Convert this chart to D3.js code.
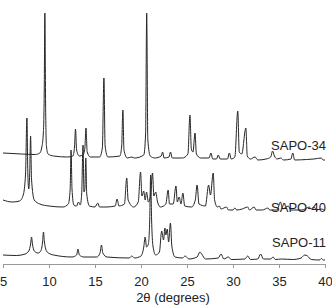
<!DOCTYPE html>
<html>
<head>
<meta charset="utf-8">
<script src="https://cdn.jsdelivr.net/npm/d3@7"></script>
<style>
  body { margin: 0; background: #fff; }
  svg text { font-family: "Liberation Sans", Arial, sans-serif; fill: #222; }
</style>
</head>
<body>
<div id="chart"></div>
<script>
'use strict';

// sample names and vertical offsets of each pattern
let sampleNames = ["SAPO-11", "SAPO-40", "SAPO-34"];
let sampleOffsets = [0, 50, 100];

// [2theta, intensity], relative to each offset
let sapo11 = [[5.0,9],[6.5,8.5],[7.4,10],[7.8,13],[8.0,20],[8.1,27],[8.2,20],[8.4,13],[8.8,11],[9.1,13],[9.3,22],[9.4,32],[9.5,22],[9.8,12],[10.5,9],[12.5,7],[13.0,9],[13.15,15],[13.3,9],[13.8,7],[15.2,7],[15.55,11],[15.7,19],[15.85,11],[16.3,7],[18.7,6],[19.0,8],[19.3,6],[20.0,8],[20.3,17],[20.45,27],[20.6,17],[20.8,20],[20.95,45],[21.05,89],[21.15,45],[21.3,18],[21.6,9],[22.0,12],[22.25,33],[22.45,24],[22.6,36],[22.7,29],[22.85,35],[23.0,22],[23.2,41],[23.35,18],[23.7,7],[24.5,6],[24.8,8],[25.2,5],[26.1,7],[26.4,12],[26.6,10],[27.0,5],[28.4,6],[28.7,10],[29.0,5],[29.5,7],[29.8,4.5],[31.3,5],[31.6,8],[31.9,4.5],[32.7,5],[33.0,10],[33.3,5],[34.1,5],[34.35,7],[34.6,4.5],[35.3,5],[36.5,4.5],[37.4,6],[37.8,9],[38.1,8],[38.5,4.5],[39.4,4],[39.6,5.5],[39.8,4],[40,4]];

let sapo40 = [[5.0,14],[6.0,12],[6.8,13],[7.2,19],[7.45,40],[7.6,96],[7.7,40],[7.8,25],[7.9,40],[8.0,78],[8.1,35],[8.4,14],[9.0,10],[10.0,8],[11.5,7],[12.1,10],[12.3,25],[12.4,64],[12.5,25],[12.7,9],[13.0,8],[13.2,12],[13.4,9],[13.55,20],[13.7,69],[13.8,22],[13.9,25],[14.0,56],[14.1,20],[14.4,8],[15.0,7],[15.3,11],[15.5,7],[16.2,7],[17.2,8],[17.4,15],[17.6,8],[18.2,10],[18.45,36],[18.6,14],[19.2,7],[19.7,12],[19.95,42],[20.1,18],[20.3,23],[20.45,14],[20.6,22],[20.8,12],[21.05,20],[21.25,41],[21.4,18],[21.6,22],[21.8,12],[22.1,7],[22.7,10],[22.95,24],[23.1,10],[23.5,10],[23.8,28],[23.95,12],[24.15,17],[24.35,10],[24.55,21],[24.75,8],[25.5,7],[25.9,14],[26.1,29],[26.3,10],[27.0,8],[27.35,29],[27.55,19],[27.85,41],[28.0,14],[28.3,7],[28.5,8],[28.7,5],[29.3,7],[29.5,4],[30.0,4],[30.2,6],[30.4,4],[31.0,5],[31.6,7],[31.8,4],[32.3,7],[32.5,4],[33.2,4],[33.8,6],[34.0,4],[34.8,4],[35.15,12],[35.4,5],[36.0,8],[36.3,4],[37.5,4],[38.3,7],[38.5,5],[38.8,7],[39.1,4],[39.6,5],[40,3]];

let sapo34 = [[5.0,11],[7.0,10],[8.5,9.5],[9.0,11],[9.2,16],[9.38,30],[9.48,70],[9.55,151],[9.63,60],[9.72,18],[9.9,10],[10.5,8],[12.0,7],[12.6,8],[12.78,18],[12.88,35],[13.0,14],[13.3,8],[13.7,9],[13.9,16],[14.02,36],[14.15,12],[14.5,7],[15.5,7],[15.8,16],[15.97,86],[16.1,18],[16.4,7],[17.7,8],[17.9,18],[18.03,54],[18.15,14],[18.5,6],[19.0,7],[19.3,6],[20.3,9],[20.5,30],[20.62,151],[20.74,25],[21.0,8],[21.5,6],[22.2,8],[22.35,12],[22.5,6],[23.05,7],[23.2,12],[23.4,6],[24.5,6],[25.1,10],[25.32,49],[25.47,15],[25.65,12],[25.87,31],[26.02,10],[26.5,6],[27.4,6],[27.6,11],[27.8,5],[28.2,5],[28.4,9],[28.6,5],[29.4,5],[29.6,11],[29.8,5],[30.2,7],[30.52,53],[30.68,12],[30.95,10],[31.4,36],[31.55,8],[31.9,5],[32.4,7],[32.7,4],[33.6,5],[34.1,7],[34.3,13],[34.5,8],[34.8,5],[35.2,6],[35.5,4],[36.3,5],[36.5,11],[36.7,4],[38.0,4.5],[38.8,5],[39.6,6],[39.8,4],[40,4]];

let xTicks = [5, 10, 15, 20, 25, 30, 35, 40];
let xTitle = "2\u03b8 (degrees)";

const width = 332;
const height = 306;
const margin = {top: 14, right: 7, bottom: 42, left: 3};

let svg = d3.select("#chart")
            .append("svg")
            .attr("width", width)
            .attr("height", height);

let x = d3.scaleLinear()
          .domain([5, 40])
          .range([margin.left, width - margin.right]);
let y = d3.scaleLinear()
          .domain([0, 250])
          .range([height - margin.bottom, margin.top]);

// x axis
let axis = svg.append("g")
              .attr("transform", "translate(0," + (height - margin.bottom) + ")")
              .call(d3.axisBottom(x).tickValues(xTicks).tickSize(4).tickSizeOuter(0));
axis.select(".domain").attr("stroke", "#999");
axis.selectAll(".tick line").attr("stroke", "#999");
axis.selectAll(".tick text")
    .attr("font-size", 13)
    .attr("dy", "0")
    .attr("y", 22)
    .style("fill", "#222");

svg.append("text")
   .attr("x", 173)
   .attr("y", 302)
   .attr("text-anchor", "middle")
   .attr("font-size", 13)
   .text(xTitle);

// patterns
let patterns = [sapo11, sapo40, sapo34];
let line = d3.line().curve(d3.curveMonotoneX);

patterns.forEach( (pattern, i) => {
    let offset = sampleOffsets[i];
    line.x(d => x(d[0])).y(d => y(d[1] + offset));
    svg.append("path")
       .datum(pattern)
       .attr("d", line)
       .attr("fill", "none")
       .attr("stroke", "#262626")
       .attr("stroke-width", 1)
       .attr("stroke-linejoin", "round");
});

// sample labels, right aligned
let labelY = [247, 212, 149.5];
sampleNames.forEach( (name, i) => {
    svg.append("text")
       .attr("x", 326)
       .attr("y", labelY[i])
       .attr("text-anchor", "end")
       .attr("font-size", 13)
       .text(name);
});
</script>
</body>
</html>
